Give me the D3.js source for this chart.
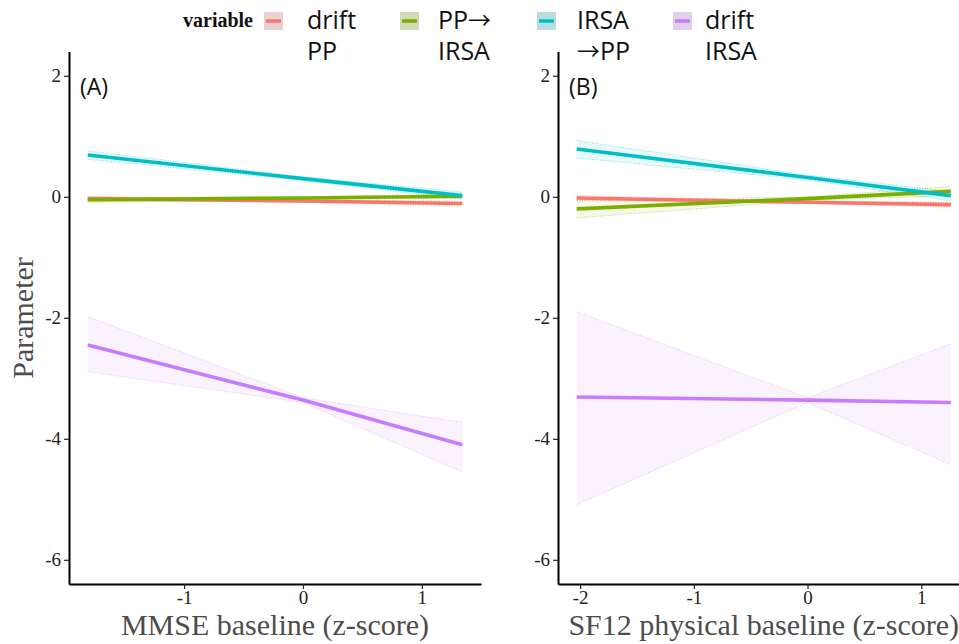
<!DOCTYPE html>
<html><head><meta charset="utf-8">
<script src="https://cdn.jsdelivr.net/npm/d3@7"></script>
<style>body{margin:0;background:#fff}</style>
</head><body>
<svg id="c" width="959" height="644"></svg>
<script>
// ---------------- data ----------------
const seriesLabels = [["drift","PP"],["PP→","IRSA"],["IRSA","→PP"],["drift","IRSA"]];
const seriesColors = ["#F8766D","#7CAE00","#00BFC4","#C77CFF"];

// Panel A: MMSE baseline (sample x positions: start, centre, end)
const xA = [-1.81, 0, 1.34];
const fitA_driftPP   = [-0.03, -0.07, -0.11];
const loA_driftPP    = [-0.07, -0.09, -0.15];
const hiA_driftPP    = [ 0.01, -0.05, -0.07];
const fitA_PPtoIRSA  = [-0.05, -0.02,  0.01];
const loA_PPtoIRSA   = [-0.09, -0.04, -0.03];
const hiA_PPtoIRSA   = [-0.01,  0.00,  0.05];
const fitA_IRSAtoPP  = [ 0.69,  0.30,  0.02];
const loA_IRSAtoPP   = [ 0.62,  0.27, -0.04];
const hiA_IRSAtoPP   = [ 0.76,  0.33,  0.08];
const fitA_driftIRSA = [-2.45, -3.36, -4.10];
const loA_driftIRSA  = [-2.89, -3.40, -4.55];
const hiA_driftIRSA  = [-1.98, -3.32, -3.73];

// Panel B: SF12 physical baseline
const xB = [-2.03, 0, 1.26];
const fitB_driftPP   = [-0.02, -0.09, -0.13];
const loB_driftPP    = [-0.06, -0.11, -0.17];
const hiB_driftPP    = [ 0.02, -0.07, -0.09];
const fitB_PPtoIRSA  = [-0.20, -0.03,  0.09];
const loB_PPtoIRSA   = [-0.35, -0.06,  0.02];
const hiB_PPtoIRSA   = [-0.07,  0.00,  0.17];
const fitB_IRSAtoPP  = [ 0.79,  0.32,  0.02];
const loB_IRSAtoPP   = [ 0.64,  0.28, -0.07];
const hiB_IRSAtoPP   = [ 0.93,  0.36,  0.09];
const fitB_driftIRSA = [-3.31, -3.36, -3.40];
const loB_driftIRSA  = [-5.09, -3.40, -4.43];
const hiB_driftIRSA  = [-1.90, -3.32, -2.43];

const yTicks  = [-6, -4, -2, 0, 2];
const xTicksA = [-1, 0, 1];
const xTicksB = [-2, -1, 0, 1];
const panelTags = ["(A)", "(B)"];
const xTitles = ["MMSE baseline (z-score)", "SF12 physical baseline (z-score)"];
const yTitle = "Parameter";
const legendTitle = "variable";

// ---------------- build ----------------
const svg = d3.select("#c");
const serif = "'Liberation Serif','Times New Roman',serif";
const sans = "'Open Sans','Noto Sans',sans-serif";
const arrowFont = "'Noto Sans CJK SC','DejaVu Sans',sans-serif";

const y = d3.scaleLinear().domain([-6.4, 2.4]).range([584, 51.6]);

const panels = [
  { x: xA, domain: [-1.9675, 1.4975], range: [69, 481], ticks: xTicksA, tag: panelTags[0], title: xTitles[0],
    series: [[fitA_driftPP, loA_driftPP, hiA_driftPP],[fitA_PPtoIRSA, loA_PPtoIRSA, hiA_PPtoIRSA],
             [fitA_IRSAtoPP, loA_IRSAtoPP, hiA_IRSAtoPP],[fitA_driftIRSA, loA_driftIRSA, hiA_driftIRSA]] },
  { x: xB, domain: [-2.1945, 1.4245], range: [558, 969.5], ticks: xTicksB, tag: panelTags[1], title: xTitles[1],
    series: [[fitB_driftPP, loB_driftPP, hiB_driftPP],[fitB_PPtoIRSA, loB_PPtoIRSA, hiB_PPtoIRSA],
             [fitB_IRSAtoPP, loB_IRSAtoPP, hiB_IRSAtoPP],[fitB_driftIRSA, loB_driftIRSA, hiB_driftIRSA]] }
];

const fmt = d => d3.format("d")(d).replace("−", "-");

panels.forEach(p => {
  const x = d3.scaleLinear().domain(p.domain).range(p.range);
  const g = svg.append("g");
  const area = d3.area().x(d => x(d.x)).y0(d => y(d.lo)).y1(d => y(d.hi));
  const line = d3.line().x(d => x(d.x)).y(d => y(d.v));

  p.series.forEach((s, i) => {
    const pts = p.x.map((xv, k) => ({ x: xv, v: s[0][k], lo: s[1][k], hi: s[2][k] }));
    g.append("path").attr("d", area(pts)).attr("fill", seriesColors[i]).attr("fill-opacity", 0.09);
    ["lo","hi"].forEach(key => {
      g.append("path").attr("d", d3.line().x(d => x(d.x)).y(d => y(d[key]))(pts))
        .attr("fill", "none").attr("stroke", seriesColors[i]).attr("stroke-opacity", 0.55)
        .attr("stroke-width", 0.9).attr("stroke-dasharray", "1,1.6");
    });
  });
  p.series.forEach((s, i) => {
    const pts = p.x.map((xv, k) => ({ x: xv, v: s[0][k] }));
    g.append("path").attr("d", line(pts)).attr("fill", "none")
      .attr("stroke", seriesColors[i]).attr("stroke-width", 3.6);
  });

  const ax = g.append("g").attr("transform", `translate(0,${y.range()[0]})`)
    .call(d3.axisBottom(x).tickValues(p.ticks).tickFormat(fmt).tickSizeInner(5).tickSizeOuter(0).tickPadding(2));
  const ay = g.append("g").attr("transform", `translate(${p.range[0]},0)`)
    .call(d3.axisLeft(y).tickValues(yTicks).tickFormat(fmt).tickSizeInner(5).tickSizeOuter(0).tickPadding(3));
  [ax, ay].forEach(a => {
    a.attr("font-family", serif).attr("font-size", 19);
    a.select(".domain").attr("stroke", "#000").attr("stroke-width", 2);
    a.selectAll(".tick line").attr("stroke", "#222").attr("stroke-width", 1.2);
    a.selectAll(".tick text").attr("font-family", serif).attr("font-size", 19).attr("fill", "#222");
  });

  g.append("text").attr("x", p.range[0] + 11).attr("y", 95).text(p.tag)
    .attr("font-family", sans).attr("font-size", 23).attr("fill", "#111");
  g.append("text").attr("x", (p.range[0] + p.range[1]) / 2).attr("y", 635)
    .attr("text-anchor", "middle").text(p.title)
    .attr("font-family", serif).attr("font-size", 30).attr("fill", "#4d4d4d");
});

svg.append("text").attr("transform", "translate(33,318) rotate(-90)")
  .attr("text-anchor", "middle").text(yTitle)
  .attr("font-family", serif).attr("font-size", 30).attr("fill", "#4d4d4d");

// legend
const keyX = [264, 400, 537, 673];
const labX = [307, 438, 577, 705];
svg.append("text").attr("x", 183).attr("y", 27).text(legendTitle)
  .attr("font-family", serif).attr("font-weight", "bold").attr("font-size", 20).attr("fill", "#111");
seriesLabels.forEach((lab, i) => {
  const lg = svg.append("g");
  lg.append("rect").attr("x", keyX[i]).attr("y", 12).attr("width", 19).attr("height", 18).attr("fill", "#e6e6e6");
  lg.append("rect").attr("x", keyX[i]).attr("y", 12).attr("width", 19).attr("height", 18)
    .attr("fill", seriesColors[i]).attr("fill-opacity", 0.2);
  lg.append("line").attr("x1", keyX[i] + 2).attr("x2", keyX[i] + 17).attr("y1", 21).attr("y2", 21)
    .attr("stroke", seriesColors[i]).attr("stroke-width", 3.5);
  const t = lg.append("text").attr("font-family", sans).attr("font-size", 25).attr("fill", "#111");
  lab.forEach((s, k) => {
    const row = t.append("tspan").attr("x", labX[i]).attr("y", 29 + k * 31);
    s.split(/(→)/).filter(part => part.length).forEach(part => {
      const sp = row.append("tspan").text(part);
      if (part === "→") sp.attr("font-family", arrowFont).attr("font-size", 23);
    });
  });
});
</script>
</body></html>
